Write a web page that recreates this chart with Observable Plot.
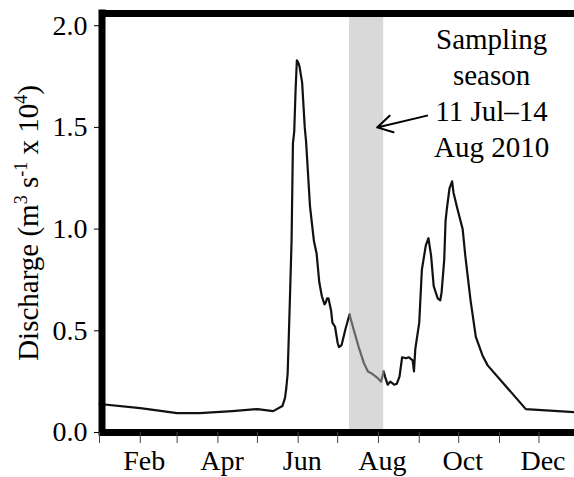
<!DOCTYPE html>
<html>
<head>
<meta charset="utf-8">
<script src="https://cdn.jsdelivr.net/npm/d3@7"></script>
<script src="https://cdn.jsdelivr.net/npm/@observablehq/plot@0.6"></script>
<style>
  html, body { margin: 0; padding: 0; background: #fff; }
  svg text { font-family: "Liberation Serif", "Times New Roman", serif; }
</style>
</head>
<body>
<div id="chart"></div>
<script>
// ---- Data ----
const dates = [
  "2010-01-01","2010-02-01","2010-03-01","2010-03-18","2010-04-12","2010-05-01","2010-05-13",
  "2010-05-20","2010-05-22","2010-05-23","2010-05-24","2010-05-25","2010-05-26","2010-05-27",
  "2010-05-28","2010-05-29","2010-05-30","2010-05-31","2010-06-01","2010-06-02","2010-06-04",
  "2010-06-06","2010-06-07","2010-06-10","2010-06-13","2010-06-15","2010-06-17","2010-06-19",
  "2010-06-21","2010-06-22","2010-06-23","2010-06-24","2010-06-26","2010-06-27","2010-06-29",
  "2010-07-01","2010-07-02","2010-07-04","2010-07-07","2010-07-10","2010-07-13","2010-07-17",
  "2010-07-21","2010-07-24","2010-07-27","2010-07-31","2010-08-03","2010-08-05","2010-08-06",
  "2010-08-08","2010-08-10","2010-08-13","2010-08-15","2010-08-17","2010-08-19","2010-08-22",
  "2010-08-24","2010-08-27","2010-08-28","2010-08-29","2010-09-01","2010-09-03","2010-09-06",
  "2010-09-08","2010-09-10","2010-09-12","2010-09-15","2010-09-17","2010-09-18","2010-09-20",
  "2010-09-21","2010-09-22","2010-09-24","2010-09-26","2010-09-27","2010-09-30","2010-10-04",
  "2010-10-06","2010-10-10","2010-10-14","2010-10-19","2010-10-23","2010-11-21","2010-12-28"
];
const discharge = [
  0.14, 0.12, 0.095, 0.095, 0.105, 0.115, 0.105,
  0.13, 0.17, 0.22, 0.29, 0.50, 0.72, 0.95,
  1.42, 1.48, 1.68, 1.83, 1.82, 1.80, 1.72,
  1.50, 1.43, 1.11, 0.94, 0.88, 0.74, 0.67,
  0.63, 0.64, 0.66, 0.66, 0.60, 0.54, 0.52,
  0.44, 0.42, 0.43, 0.51, 0.58, 0.51, 0.42,
  0.34, 0.30, 0.29, 0.27, 0.25, 0.30, 0.275,
  0.235, 0.25, 0.235, 0.24, 0.275, 0.37, 0.365,
  0.37, 0.355, 0.30, 0.41, 0.54, 0.80, 0.92,
  0.955, 0.87, 0.72, 0.66, 0.65, 0.69, 0.85,
  1.04, 1.10, 1.20, 1.235, 1.18, 1.10, 1.00,
  0.87, 0.65, 0.47, 0.38, 0.33, 0.115, 0.10
];

const monthTicks = [
  "2010-01-01","2010-02-01","2010-03-01","2010-04-01","2010-05-01","2010-06-01",
  "2010-07-01","2010-08-01","2010-09-01","2010-10-01","2010-11-01","2010-12-01"
];
const labelTicks = ["2010-02-01","2010-04-01","2010-06-01","2010-08-01","2010-10-01","2010-12-01"];
const labelNames = ["Feb","Apr","Jun","Aug","Oct","Dec"];
const yTicks = [0, 0.5, 1.0, 1.5, 2.0];
const yTop = 2.06;
const xDomain = ["2010-01-01", "2010-12-28"];
const seasonStart = "2010-07-10";
const seasonEnd = "2010-08-05";
// y title pieces: [text, isSuperscript]
const yTitleParts = [["Discharge (m", false], ["3", true], [" s", false], ["-1", true], [" x 10", false], ["4", true], [")", false]];
const noteText = "Sampling\nseason\n11 Jul–14\nAug 2010";
const noteDate = "2010-10-26";
const noteQ = 2.01;
const arrowFromDate = "2010-09-07", arrowFromQ = 1.558;
const arrowToDate = "2010-07-31", arrowToQ = 1.50;

// ---- Build tables ----
const FONT = '"Liberation Serif", "Times New Roman", serif';
const D = (s) => new Date(s + "T00:00:00Z");
const rows = dates.map((d, i) => ({date: D(d), q: discharge[i]}));
const s0 = D(seasonStart), s1 = D(seasonEnd);
const pre = rows.filter(r => r.date <= s0);
const mid = rows.filter(r => r.date >= s0 && r.date <= s1);
const post = rows.filter(r => r.date >= s1);
const nameByTime = new Map(labelTicks.map((d, i) => [D(d).getTime(), labelNames[i]]));
const x0 = D(xDomain[0]);
const yTitle = yTitleParts.map(p => p[0]).join("");

const chart = Plot.plot({
  width: 574,
  height: 477,
  marginLeft: 99,
  marginRight: 0,
  marginTop: 13,
  marginBottom: 45,
  style: {
    fontFamily: FONT,
    fontSize: "28px",
    background: "#fff",
    color: "#000"
  },
  x: {type: "utc", domain: xDomain.map(D)},
  y: {domain: [0, yTop]},
  marks: [
    // sampling season band
    Plot.rect([{a: s0, b: s1}], {x1: "a", x2: "b", y1: 0, y2: yTop, fill: "#d9d9d9"}),
    // discharge line
    Plot.line(pre, {x: "date", y: "q", stroke: "#111", strokeWidth: 2.2, strokeLinejoin: "round"}),
    Plot.line(post, {x: "date", y: "q", stroke: "#111", strokeWidth: 2.2, strokeLinejoin: "round"}),
    Plot.line(mid, {x: "date", y: "q", stroke: "#666", strokeWidth: 2.2, strokeLinejoin: "round"}),
    // frame lines
    Plot.ruleY([0, yTop], {stroke: "#000", strokeWidth: 7}),
    Plot.ruleX([x0], {stroke: "#000", strokeWidth: 7, dx: 2.5, y1: 0, y2: yTop, strokeLinecap: "square"}),
    // axes
    Plot.axisY({ticks: yTicks, tickFormat: d3.format(".1f"), tickSize: 5, tickPadding: 7, label: null, strokeWidth: 1, fontSize: 28, fontFamily: FONT}),
    Plot.axisX({ticks: monthTicks.map(D), tickFormat: () => "", tickSize: 11, label: null, strokeWidth: 1, stroke: "#444"}),
    Plot.axisX({ticks: labelTicks.map(D), tickFormat: (d) => nameByTime.get(d.getTime()), tickSize: 0, tickPadding: 18, dx: 4, label: null, fontSize: 28, fontFamily: FONT}),
    // y title
    Plot.text([yTitle], {frameAnchor: "left", textAnchor: "middle", rotate: -90, dx: -71, fontSize: 29, fontFamily: FONT, fill: "#000", ariaLabel: "y-title"}),
    // annotation
    Plot.text([{date: D(noteDate), q: noteQ, t: noteText}], {
      x: "date", y: "q", text: "t", lineAnchor: "top", lineHeight: 36 / 29, fontSize: 29, fontFamily: FONT, textAnchor: "middle", fill: "#000"
    }),
    Plot.arrow([{x1: D(arrowFromDate), y1: arrowFromQ, x2: D(arrowToDate), y2: arrowToQ}], {
      x1: "x1", y1: "y1", x2: "x2", y2: "y2", stroke: "#000", strokeWidth: 2, headLength: 15
    })
  ]
});

// real superscripts in the y title
d3.select(chart).selectAll("text").filter(function () { return this.textContent === yTitle; }).each(function () {
  const t = d3.select(this);
  t.text(null);
  let raised = false;
  for (const [s, sup] of yTitleParts) {
    const ts = t.append("tspan").text(s);
    if (sup && !raised) { ts.attr("dy", -11).attr("font-size", 18); raised = true; }
    else if (sup) { ts.attr("font-size", 18); }
    else if (raised) { ts.attr("dy", 11); raised = false; }
  }
});

document.getElementById("chart").appendChild(chart);
</script>
</body>
</html>
